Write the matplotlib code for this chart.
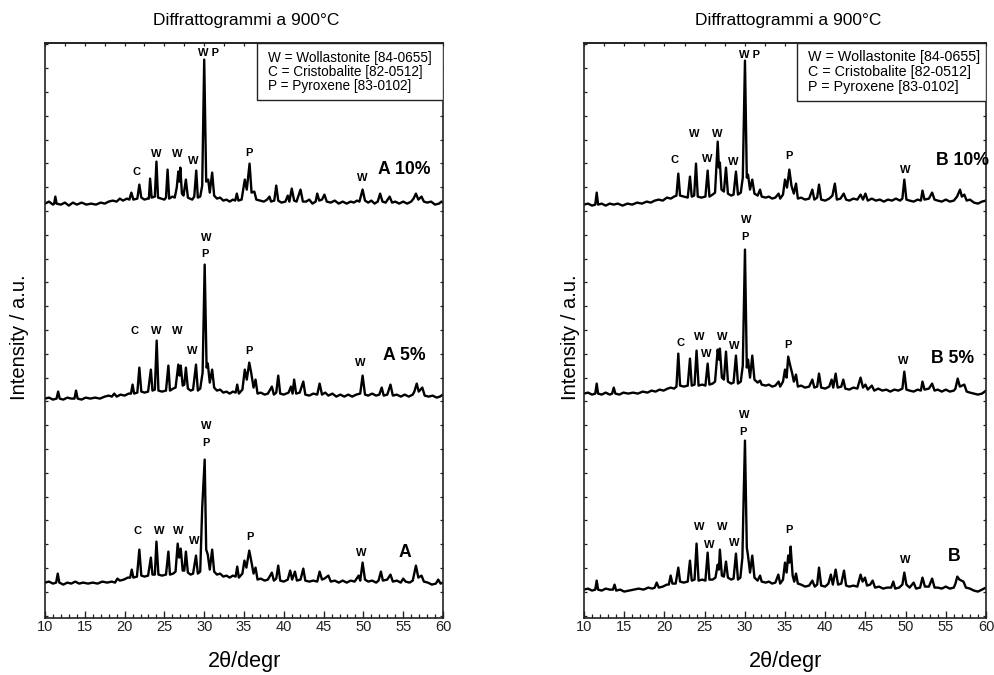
import matplotlib
matplotlib.use('Agg')
import matplotlib.pyplot as plt
from matplotlib.ticker import MultipleLocator, NullFormatter
from matplotlib.patches import Rectangle

plt.rcParams['font.family'] = ['Liberation Sans', 'DejaVu Sans']

# ---------------- data: XRD traces (2theta, intensity a.u.), stacked ----------------
A10 = [(10.0,414),(10.5,416),(11.0,413),(11.15,414),(11.3,421),(11.45,414),(12.0,413),(12.5,415),(13.0,412),(13.5,415),
       (14.0,413),(14.6,415),(15.2,413),(15.8,414),(16.4,413),(17.0,415),(17.5,414),(18.0,416),(18.5,417),(19.0,416),
       (19.4,419),(19.8,417),(20.3,419),(20.6,418),(20.85,425),(21.1,418),(21.6,419),(21.85,433),(22.1,420),(22.5,418),
       (22.9,419),(23.05,419),(23.2,439),(23.4,420),(23.8,421),(24.0,456),(24.2,420),(24.6,419),(25.0,418),(25.2,420),
       (25.4,448),(25.6,419),(26.0,421),(26.3,420),(26.55,430),(26.75,446),(26.88,436),(27.0,450),(27.2,424),(27.4,422),
       (27.7,438),(27.95,420),(28.2,419),(28.5,418),(28.75,421),(29.0,447),(29.2,420),(29.5,421),(29.75,432),(30.0,558),
       (30.25,436),(30.5,438),(30.7,425),(31.0,445),(31.25,422),(31.6,419),(32.0,420),(32.4,417),(32.8,418),(33.2,416),
       (33.6,418),(33.9,417),(34.1,424),(34.3,417),(34.7,418),(35.1,438),(35.35,428),(35.7,454),(35.95,425),(36.3,426),
       (36.55,418),(37.0,417),(37.5,416),(37.9,418),(38.2,421),(38.4,416),(38.8,417),(39.05,432),(39.3,417),(39.7,415),
       (40.2,416),(40.5,422),(40.7,416),(41.0,429),(41.3,417),(41.6,416),(42.1,428),(42.4,416),(42.8,416),(43.2,418),
       (43.6,414),(44.0,416),(44.2,424),(44.45,417),(44.8,418),(45.1,423),(45.4,416),(45.9,415),(46.4,417),(46.9,414),
       (47.4,416),(47.9,414),(48.4,416),(48.8,415),(49.2,417),(49.5,416),(49.9,428),(50.2,417),(50.6,415),(51.0,417),
       (51.4,414),(51.8,416),(52.1,424),(52.4,416),(52.8,415),(53.3,421),(53.6,415),(54.0,416),(54.5,414),(55.0,416),
       (55.5,414),(56.0,416),(56.3,419),(56.6,424),(56.9,418),(57.3,421),(57.6,416),(58.0,415),(58.5,416),(59.0,413),
       (59.5,414),(59.8,416),(60.0,415)]

A5 = [(10.0,219),(10.5,220),(11.0,218),(11.45,219),(11.65,226),(11.85,219),(12.3,218),(12.8,220),(13.3,219),(13.7,219),
      (13.9,227),(14.1,219),(14.6,218),(15.1,220),(15.7,219),(16.3,220),(16.9,219),(17.5,221),(18.0,222),(18.4,221),
      (18.7,224),(19.0,221),(19.5,223),(20.0,222),(20.5,224),(20.8,224),(21.0,233),(21.2,224),(21.6,225),(21.85,250),
      (22.1,226),(22.5,225),(22.95,226),(23.3,248),(23.5,227),(23.8,228),(24.03,277),(24.25,227),(24.7,226),(25.2,227),
      (25.5,252),(25.7,227),(26.1,229),(26.4,230),(26.75,253),(26.9,242),(27.05,252),(27.3,232),(27.5,233),(27.7,250),
      (27.95,229),(28.3,227),(28.6,228),(28.97,253),(29.2,227),(29.5,229),(29.8,245),(30.06,353),(30.3,250),(30.45,254),
      (30.7,235),(31.0,248),(31.25,230),(31.6,227),(32.0,228),(32.4,225),(32.8,226),(33.2,224),(33.6,226),(33.95,225),
      (34.15,233),(34.35,224),(34.8,228),(35.1,248),(35.35,238),(35.66,255),(35.9,245),(36.2,230),(36.45,238),(36.7,224),
      (37.1,225),(37.6,223),(38.0,224),(38.5,231),(38.75,223),(39.05,225),(39.3,242),(39.55,224),(40.0,223),(40.6,225),
      (40.9,231),(41.1,224),(41.3,238),(41.55,224),(42.0,225),(42.45,236),(42.7,223),(43.2,222),(43.7,224),(44.2,223),
      (44.5,234),(44.8,223),(45.2,225),(45.6,222),(46.1,224),(46.6,221),(47.1,223),(47.6,221),(48.1,223),(48.6,221),
      (49.1,223),(49.6,224),(49.9,242),(50.2,223),(50.6,222),(51.1,224),(51.6,222),(52.0,223),(52.3,230),(52.55,222),
      (53.0,223),(53.4,233),(53.7,222),(54.2,223),(54.7,221),(55.2,223),(55.7,221),(56.2,223),(56.4,226),(56.7,234),
      (56.95,226),(57.4,230),(57.7,222),(58.2,221),(58.7,222),(59.2,220),(59.6,221),(60.0,223)]

A0 = [(10.0,35),(10.5,36),(11.0,34),(11.4,35),(11.6,44),(11.8,35),(12.3,33),(12.8,35),(13.3,34),(13.8,36),
      (14.3,34),(14.8,35),(15.4,34),(16.0,35),(16.6,34),(17.2,36),(17.8,35),(18.4,36),(18.8,35),(19.1,39),
      (19.4,37),(19.9,38),(20.4,40),(20.7,40),(20.9,48),(21.1,40),(21.55,41),(21.85,68),(22.1,42),(22.5,41),
      (22.95,42),(23.3,60),(23.5,43),(23.8,43),(24.0,76),(24.25,43),(24.7,42),(25.2,43),(25.5,66),(25.7,43),
      (26.1,44),(26.4,46),(26.67,74),(26.85,60),(27.05,69),(27.3,47),(27.5,47),(27.7,66),(27.95,45),(28.3,43),
      (28.6,44),(28.97,62),(29.2,44),(29.5,46),(29.75,110),(30.06,158),(30.25,68),(30.45,63),(30.7,48),(31.0,68),
      (31.25,46),(31.6,43),(32.0,44),(32.4,41),(32.8,42),(33.2,40),(33.6,42),(33.95,41),(34.15,51),(34.35,40),
      (34.8,44),(35.05,57),(35.3,50),(35.66,67),(35.95,55),(36.2,44),(36.45,50),(36.7,38),(37.1,39),(37.6,37),
      (38.0,38),(38.5,45),(38.75,37),(39.05,39),(39.3,52),(39.55,37),(40.0,36),(40.5,38),(40.8,47),(41.05,38),
      (41.4,46),(41.65,37),(42.1,38),(42.45,49),(42.7,37),(43.2,36),(43.7,37),(44.2,36),(44.5,46),(44.8,38),
      (45.1,39),(45.6,42),(45.9,36),(46.4,37),(46.9,35),(47.4,37),(47.9,35),(48.4,37),(48.9,36),(49.4,42),
      (49.6,37),(49.9,55),(50.2,38),(50.6,36),(51.1,37),(51.6,35),(51.9,37),(52.2,46),(52.45,37),(53.0,38),
      (53.4,43),(53.7,36),(54.2,37),(54.7,35),(55.0,39),(55.3,36),(55.8,35),(56.2,37),(56.6,52),(56.9,40),
      (57.3,42),(57.6,36),(58.1,35),(58.6,33),(59.1,34),(59.4,38),(59.7,34),(60.0,35)]

B10 = [(10.0,413),(10.5,414),(11.0,412),(11.4,413),(11.58,425),(11.75,413),(12.2,414),(12.7,412),(13.2,414),(13.7,413),
       (14.2,414),(14.8,412),(15.4,414),(16.0,413),(16.6,415),(17.2,414),(17.8,416),(18.3,415),(18.8,417),(19.3,418),
       (19.8,417),(20.3,420),(20.8,419),(21.2,421),(21.5,422),(21.73,444),(21.95,422),(22.4,421),(22.9,420),(23.18,441),
       (23.4,421),(23.7,422),(23.93,454),(24.15,421),(24.6,420),(25.1,421),(25.38,447),(25.6,421),(26.0,423),(26.3,425),
       (26.63,476),(26.78,450),(26.9,455),(27.1,428),(27.4,426),(27.66,450),(27.9,424),(28.3,422),(28.6,423),(28.9,446),
       (29.15,423),(29.5,425),(29.75,440),(30.02,557),(30.25,440),(30.4,443),(30.65,428),(30.93,438),(31.2,424),(31.6,422),
       (31.9,428),(32.1,421),(32.6,420),(33.0,421),(33.4,419),(33.8,420),(34.2,424),(34.4,419),(34.75,423),(35.0,438),
       (35.25,430),(35.54,448),(35.8,432),(36.1,424),(36.37,434),(36.6,419),(37.0,420),(37.5,418),(38.0,419),(38.4,428),
       (38.65,418),(39.0,420),(39.23,433),(39.5,418),(40.0,417),(40.5,419),(40.9,422),(41.2,434),(41.45,418),(41.9,419),
       (42.3,424),(42.6,418),(43.0,417),(43.5,419),(44.0,418),(44.4,423),(44.7,418),(45.0,424),(45.3,417),(45.8,419),
       (46.3,417),(46.8,418),(47.3,416),(47.8,418),(48.3,417),(48.8,419),(49.3,417),(49.6,419),(49.84,438),(50.1,418),
       (50.5,417),(51.0,416),(51.5,418),(51.9,417),(52.1,427),(52.35,418),(52.9,419),(53.3,425),(53.6,418),(54.0,417),
       (54.5,416),(55.0,418),(55.5,416),(56.0,417),(56.4,421),(56.77,428),(57.0,421),(57.3,423),(57.6,417),(58.0,418),
       (58.5,415),(59.0,414),(59.5,416),(60.0,417)]

B5 = [(10.0,224),(10.5,225),(11.0,223),(11.4,224),(11.58,234),(11.75,224),(12.2,223),(12.7,225),(13.2,223),(13.5,224),
      (13.7,230),(13.9,224),(14.4,223),(14.9,225),(15.5,224),(16.1,225),(16.7,224),(17.3,226),(17.9,225),(18.4,227),
      (18.9,226),(19.4,228),(19.9,227),(20.4,229),(20.8,230),(21.2,229),(21.5,231),(21.73,264),(21.95,232),(22.4,231),
      (22.9,232),(23.18,259),(23.4,232),(23.75,233),(24.0,267),(24.25,232),(24.7,233),(25.1,232),(25.38,254),(25.6,233),
      (26.0,234),(26.3,236),(26.63,268),(26.78,258),(26.9,269),(27.15,240),(27.4,238),(27.66,266),(27.9,236),(28.3,234),
      (28.6,235),(28.9,262),(29.15,234),(29.5,236),(29.75,252),(30.02,368),(30.25,250),(30.4,258),(30.65,240),(30.93,262),
      (31.2,238),(31.6,235),(31.9,237),(32.1,233),(32.6,232),(33.0,233),(33.4,231),(33.8,232),(34.2,236),(34.4,231),
      (34.75,236),(35.0,248),(35.2,240),(35.4,261),(35.65,252),(35.9,244),(36.1,236),(36.37,243),(36.6,231),(37.0,232),
      (37.5,230),(38.0,231),(38.4,238),(38.65,230),(39.0,231),(39.23,244),(39.5,230),(40.0,229),(40.5,231),(40.8,238),
      (41.0,230),(41.3,244),(41.55,230),(42.0,231),(42.25,238),(42.5,229),(43.0,228),(43.5,230),(44.0,229),(44.4,240),
      (44.7,230),(45.0,233),(45.3,228),(45.8,232),(46.1,227),(46.6,229),(47.1,227),(47.6,228),(48.1,226),(48.6,228),
      (49.1,227),(49.6,229),(49.84,246),(50.1,228),(50.5,227),(51.0,226),(51.5,228),(51.9,227),(52.1,236),(52.35,228),
      (52.9,229),(53.3,234),(53.6,227),(54.0,228),(54.5,226),(55.0,228),(55.5,226),(56.0,227),(56.2,229),(56.48,239),
      (56.75,231),(57.3,233),(57.6,226),(58.0,225),(58.5,224),(59.0,223),(59.5,224),(60.0,227)]

B0 = [(10.0,28),(10.5,29),(11.0,27),(11.4,28),(11.58,37),(11.75,28),(12.2,27),(12.7,29),(13.2,28),(13.6,28),
      (13.8,33),(14.0,27),(14.5,28),(15.0,26),(15.6,27),(16.2,28),(16.8,29),(17.4,28),(18.0,30),(18.5,29),
      (18.8,30),(19.04,35),(19.3,30),(19.8,31),(20.3,33),(20.55,33),(20.78,42),(21.0,34),(21.4,34),(21.73,50),
      (21.95,36),(22.4,35),(22.9,36),(23.18,57),(23.4,37),(23.75,38),(24.0,74),(24.25,37),(24.7,38),(25.1,37),
      (25.38,65),(25.6,38),(26.0,38),(26.35,40),(26.63,53),(26.78,48),(26.9,68),(27.15,42),(27.4,41),(27.66,56),
      (27.9,40),(28.3,38),(28.6,39),(28.9,64),(29.15,38),(29.45,40),(29.7,60),(29.85,118),(30.02,177),(30.25,70),
      (30.4,62),(30.65,45),(30.93,62),(31.2,40),(31.6,37),(31.9,42),(32.1,36),(32.6,35),(33.0,36),(33.4,34),
      (33.8,35),(34.17,43),(34.4,34),(34.75,38),(35.0,55),(35.2,45),(35.4,62),(35.55,55),(35.7,71),(35.95,42),
      (36.15,36),(36.37,44),(36.6,34),(37.0,33),(37.5,31),(38.0,32),(38.4,37),(38.7,31),(39.0,33),(39.23,50),
      (39.5,32),(40.0,31),(40.4,34),(40.7,43),(40.95,33),(41.3,48),(41.6,33),(42.0,34),(42.34,47),(42.6,32),
      (43.0,31),(43.5,32),(44.0,31),(44.4,43),(44.65,36),(44.95,40),(45.2,32),(45.6,33),(45.9,37),(46.2,30),
      (46.7,31),(47.2,29),(47.7,30),(48.2,30),(48.47,36),(48.7,29),(49.2,30),(49.6,33),(49.84,45),(50.1,33),
      (50.5,30),(51.0,35),(51.3,29),(51.8,30),(52.1,40),(52.4,31),(52.9,31),(53.3,39),(53.6,30),(54.0,30),
      (54.5,29),(55.0,31),(55.5,29),(56.0,30),(56.2,34),(56.43,41),(56.7,38),(57.2,36),(57.5,30),(58.0,29),
      (58.5,27),(59.0,26),(59.5,28),(60.0,30)]

# peak labels: (2theta, intensity, text)
labels_A = [(30.6,565,'W P'),(21.5,446,'C'),(24.03,464,'W'),(26.55,464,'W'),(28.6,457,'W'),(35.67,465,'P'),(49.9,440,'W'),
            (30.2,380,'W'),(30.06,364,'P'),(21.3,287,'C'),(24.03,287,'W'),(26.55,287,'W'),(28.55,267,'W'),(35.67,267,'P'),(49.66,255,'W'),
            (30.2,192,'W'),(30.2,175,'P'),(21.65,87,'C'),(24.3,87,'W'),(26.75,87,'W'),(28.7,77,'W'),(35.75,81,'P'),(49.7,65,'W')]
samples_A = [(55.1,448,'A 10%'),(55.2,262,'A 5%'),(55.2,65,'A')]

labels_B = [(30.56,563,'W P'),(21.3,458,'C'),(23.7,484,'W'),(25.3,459,'W'),(26.63,484,'W'),(28.57,456,'W'),(35.54,462,'P'),(49.9,448,'W'),
            (30.15,398,'W'),(30.02,381,'P'),(22.0,275,'C'),(24.3,281,'W'),(25.26,264,'W'),(27.2,281,'W'),(28.7,272,'W'),(35.4,273,'P'),(49.7,257,'W'),
            (29.94,203,'W'),(29.8,186,'P'),(24.3,91,'W'),(25.6,73,'W'),(27.2,91,'W'),(28.66,75,'W'),(35.54,88,'P'),(50.0,58,'W')]
samples_B = [(57.05,457,'B 10%'),(55.9,259,'B 5%'),(56.0,61,'B')]

legend_lines = ['W = Wollastonite [84-0655]', 'C = Cristobalite [82-0512]', 'P = Pyroxene [83-0102]']
title = 'Diffrattogrammi a 900°C'
xlabel = '2θ/degr'
ylabel = 'Intensity / a.u.'

# ---------------- figure ----------------
W, H = 995, 675
fig = plt.figure(figsize=(W/100, H/100), dpi=100)
ax_bottom = (H - 617.6) / H
ax_h = 574.6 / H
axL = fig.add_axes([45/W, ax_bottom, 398/W, ax_h])
axR = fig.add_axes([584/W, ax_bottom, 402/W, ax_h])

ytick_pos = [2.1 + 23.8*k for k in range(25)]

def style(ax):
    ax.set_xlim(10, 60)
    ax.set_ylim(0, 574.6)
    ax.xaxis.set_major_locator(MultipleLocator(5))
    ax.xaxis.set_minor_locator(MultipleLocator(1))
    ax.tick_params(axis='x', which='major', direction='in', length=5, width=1, labelsize=10.5, pad=2, colors='#222')
    ax.tick_params(axis='x', which='minor', direction='in', length=3, width=0.9, colors='#222')
    ax.set_yticks(ytick_pos)
    ax.tick_params(axis='y', which='major', direction='in', length=2.5, width=0.9, left=True, right=True,
                   labelleft=False, colors='#222')
    for s in ax.spines.values():
        s.set_linewidth(1.2)
        s.set_color('#222')
    sec = ax.secondary_xaxis('top')
    sec.xaxis.set_major_locator(MultipleLocator(2.5))
    sec.xaxis.set_major_formatter(NullFormatter())
    sec.tick_params(direction='in', length=2.5, width=0.9, colors='#222')
    sec.spines['top'].set_linewidth(1.2)
    sec.spines['top'].set_color('#222')

for ax, traces in ((axL, (A10, A5, A0)), (axR, (B10, B5, B0))):
    for tr in traces:
        xs = [p[0] for p in tr]
        ys = [p[1] for p in tr]
        ax.plot(xs, ys, color='black', lw=1.7, solid_joinstyle='round')
    style(ax)

for ax, labs, samps in ((axL, labels_A, samples_A), (axR, labels_B, samples_B)):
    for x, y, t in labs:
        ax.text(x, y, t, ha='center', va='center', fontsize=8, fontweight='bold')
    for x, y, t in samps:
        ax.text(x, y, t, ha='center', va='center', fontsize=12.7, fontweight='bold')

# legend boxes
for ax, x0, y0, tx, tys, fs in ((axL, 0.532, 0.9013, 0.561, (0.974, 0.950, 0.926), 9.8),
                                (axR, 0.529, 0.8996, 0.558, (0.975, 0.949, 0.923), 10.3)):
    ax.add_patch(Rectangle((x0, y0), 1 - x0, 1 - y0, transform=ax.transAxes, facecolor='white',
                           edgecolor='#222', lw=1.0, zorder=5))
    for ty, line in zip(tys, legend_lines):
        ax.text(tx, ty, line, transform=ax.transAxes, ha='left', va='center', fontsize=fs, zorder=6)

# titles and axis labels
fig.text(246/W, 1 - 20/H, title, ha='center', va='center', fontsize=12.5)
fig.text(788/W, 1 - 20/H, title, ha='center', va='center', fontsize=12.5)
fig.text(245/W, 1 - 662/H, xlabel, ha='center', va='center', fontsize=15.6)
fig.text(786/W, 1 - 662/H, xlabel, ha='center', va='center', fontsize=15.6)
fig.text(20/W, 1 - 337/H, ylabel, ha='center', va='center', rotation=90, fontsize=14.5)
fig.text(570/W, 1 - 337/H, ylabel, ha='center', va='center', rotation=90, fontsize=14.5)

fig.savefig('out.png', dpi=100)
